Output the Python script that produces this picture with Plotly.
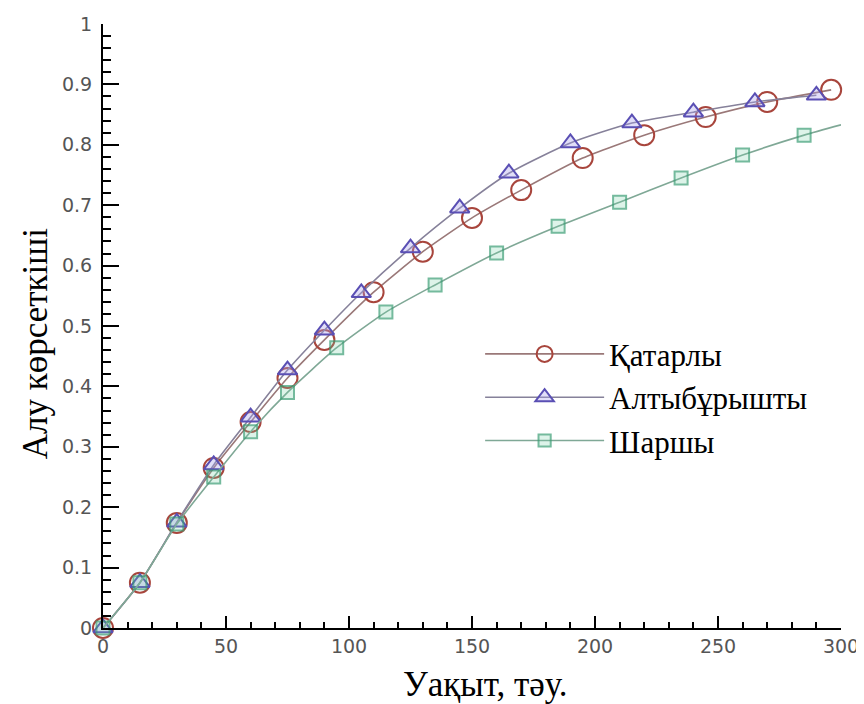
import plotly.graph_objects as go

# Қатарлы (circles)
t_circ = [0, 15, 30, 45, 60, 75, 90, 110, 130, 150, 170, 195, 220, 245, 270, 296]
y_circ = [0, 0.075, 0.174, 0.265, 0.341, 0.414, 0.477, 0.556, 0.623, 0.679, 0.725, 0.778, 0.816, 0.846, 0.871, 0.891]

# Алтыбұрышты (triangles)
t_tri = [0, 15, 30, 45, 60, 75, 90, 105, 125, 145, 165, 190, 215, 240, 265, 290]
y_tri = [0, 0.075, 0.175, 0.27, 0.349, 0.427, 0.493, 0.555, 0.629, 0.695, 0.753, 0.803, 0.836, 0.854, 0.871, 0.882]

# Шаршы (squares)
t_sq = [0, 15, 30, 45, 60, 75, 95, 115, 135, 160, 185, 210, 235, 260, 285, 300]
y_sq = [0, 0.075, 0.172, 0.25, 0.325, 0.39, 0.464, 0.523, 0.568, 0.621, 0.665, 0.705, 0.745, 0.783, 0.816, 0.833]

names = ["Қатарлы", "Алтыбұрышты", "Шаршы"]
x_title = "Уақыт, тәу."
y_title = "Алу көрсеткіші"
x_ticks = [0, 50, 100, 150, 200, 250, 300]
y_ticks = [0, 0.1, 0.2, 0.3, 0.4, 0.5, 0.6, 0.7, 0.8, 0.9, 1]
y_ticklabels = ["0", "0.1", "0.2", "0.3", "0.4", "0.5", "0.6", "0.7", "0.8", "0.9", "1"]

fig = go.Figure()

fig.add_trace(go.Scatter(
    x=t_circ, y=y_circ, name=names[0], mode="lines+markers",
    line=dict(color="#9a7878", width=1.6, shape="spline", smoothing=0.6),
    marker=dict(symbol="circle-open", size=20, color="#a8453c", line=dict(width=2, color="#a8453c")),
    cliponaxis=False,
))
fig.add_trace(go.Scatter(
    x=t_tri, y=y_tri, name=names[1], mode="lines+markers",
    line=dict(color="#86819a", width=1.6, shape="spline", smoothing=0.6),
    marker=dict(symbol="triangle-up", size=17, color="rgba(170,160,235,0.35)", line=dict(width=2, color="#5a4fb4")),
    cliponaxis=False,
))
sq_sizes = [13] * (len(t_sq) - 1) + [0]
fig.add_trace(go.Scatter(
    x=t_sq, y=y_sq, name=names[2], mode="lines+markers",
    line=dict(color="#7fa896", width=1.6, shape="spline", smoothing=0.6),
    marker=dict(symbol="square", size=sq_sizes, color="rgba(120,210,170,0.35)", line=dict(width=2, color="#3a9e74")),
    cliponaxis=False,
))

tick_font = dict(family="DejaVu Sans, Liberation Sans, Arial", size=19, color="#555555")
title_font = dict(family="Liberation Serif, Times New Roman", size=35, color="black")

axis_common = dict(
    showline=True, linecolor="black", linewidth=2, mirror=False,
    showgrid=False, zeroline=False, automargin=False,
    ticks="inside", tickcolor="black", tickwidth=2,
    tickfont=tick_font,
)

fig.update_xaxes(
    range=[0, 300], tickvals=x_ticks, ticklen=12, ticklabelstandoff=0,
    minor=dict(ticks="inside", dtick=10, ticklen=6, tickcolor="black", tickwidth=1.5),
    **axis_common,
)
fig.update_yaxes(
    range=[0, 1], tickvals=y_ticks, ticktext=y_ticklabels, ticklen=16, ticklabelstandoff=5,
    minor=dict(ticks="inside", dtick=0.02, ticklen=8, tickcolor="black", tickwidth=1.5),
    **axis_common,
)

# axis titles as annotations (paper coordinates) for precise placement
fig.add_annotation(text=x_title, xref="paper", yref="paper", x=0.518, y=-0.093,
                   xanchor="center", yanchor="middle", showarrow=False, font=title_font)
fig.add_annotation(text=y_title, xref="paper", yref="paper", x=-0.092, y=0.47,
                   xanchor="center", yanchor="middle", showarrow=False, textangle=-90, font=title_font)

fig.update_layout(
    width=856, height=696,
    margin=dict(l=95, r=23, t=16, b=76),
    paper_bgcolor="white", plot_bgcolor="white",
    showlegend=True,
    legend=dict(
        x=0.511, y=0.382, xanchor="left", yanchor="middle",
        font=dict(family="Liberation Serif, Times New Roman", size=31, color="black"),
        bgcolor="rgba(0,0,0,0)", itemwidth=119, tracegroupgap=0,
    ),
)

fig.write_html("out.html")
